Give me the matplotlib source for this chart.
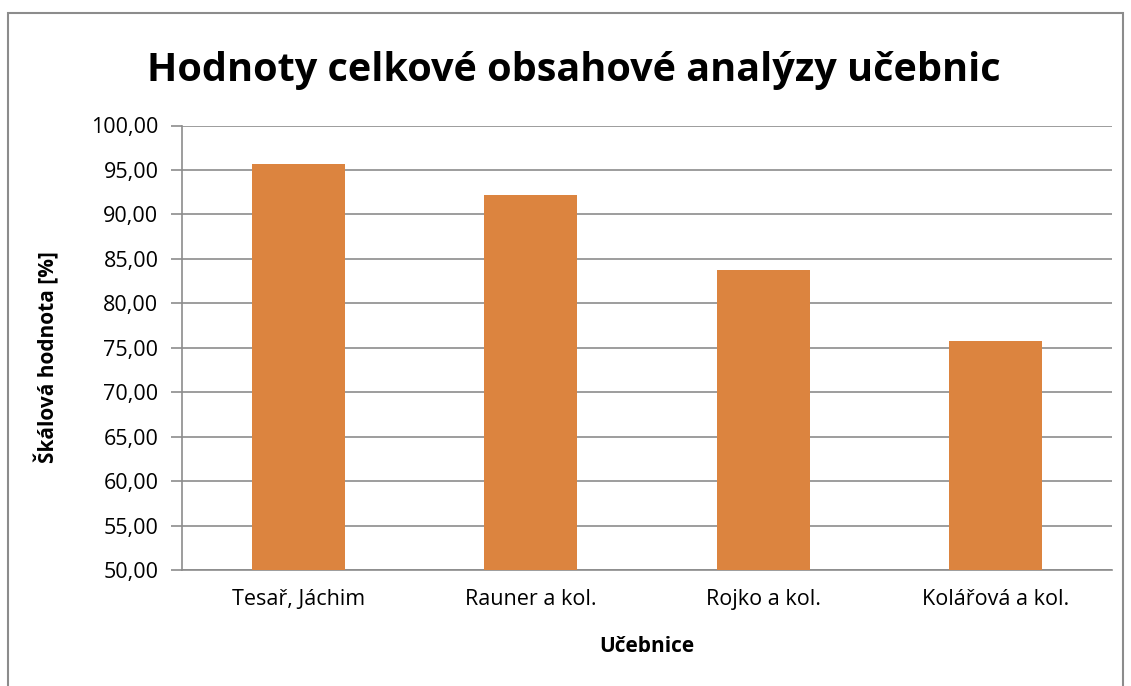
import matplotlib
matplotlib.use("Agg")
import matplotlib.pyplot as plt
from matplotlib.patches import Rectangle
from matplotlib.ticker import FuncFormatter, MultipleLocator

categories = ["Tesař, Jáchim", "Rauner a kol.", "Rojko a kol.", "Kolářová a kol."]
values = [95.65, 92.15, 83.70, 75.80]

plt.rcParams['font.family'] = ['Open Sans', 'DejaVu Sans']

W, H = 1131, 686
fig = plt.figure(figsize=(W/100, H/100), dpi=100)
ax = fig.add_axes([182/W, 1-570/H, (1112-182)/W, (570-125.5)/H])

x = range(len(categories))
ax.bar(x, values, width=0.4, color='#DC843F', zorder=3)
ax.set_xlim(-0.5, len(categories)-0.5)
ax.set_ylim(50, 100)
ax.yaxis.set_major_locator(MultipleLocator(5))
ax.yaxis.set_major_formatter(FuncFormatter(lambda v, p: f"{v:.2f}".replace('.', ',')))
ax.set_xticks(list(x))
ax.set_xticklabels(categories)
ax.grid(axis='y', color='#8c8c8c', linewidth=1.2, zorder=0)
for s in ['top', 'right']:
    ax.spines[s].set_visible(False)
for s in ['left', 'bottom']:
    ax.spines[s].set_color('#8c8c8c')
    ax.spines[s].set_linewidth(1.2)
ax.tick_params(axis='y', length=8, width=1.2, color='#8c8c8c', labelsize=15.5, pad=9)
ax.tick_params(axis='x', length=0, labelsize=15.5, pad=14)

fig.text(647/W, 1-646/H, "Učebnice", ha='center', va='center', fontsize=15, fontweight='bold')
fig.text(47/W, 1-357/H, "Škálová hodnota [%]", ha='center', va='center', rotation=90,
         fontsize=15, fontweight='bold')

fig.text(574/W, 1-70/H, "Hodnoty celkové obsahové analýzy učebnic", ha='center', va='center',
         fontsize=28.5, fontweight='bold')

fig.patches.append(Rectangle((8/W, -0.05), (1123-8)/W, (1-13/H)+0.05, transform=fig.transFigure,
                             fill=False, edgecolor='#8c8c8c', linewidth=1.5))

fig.savefig("out.png", dpi=100)
